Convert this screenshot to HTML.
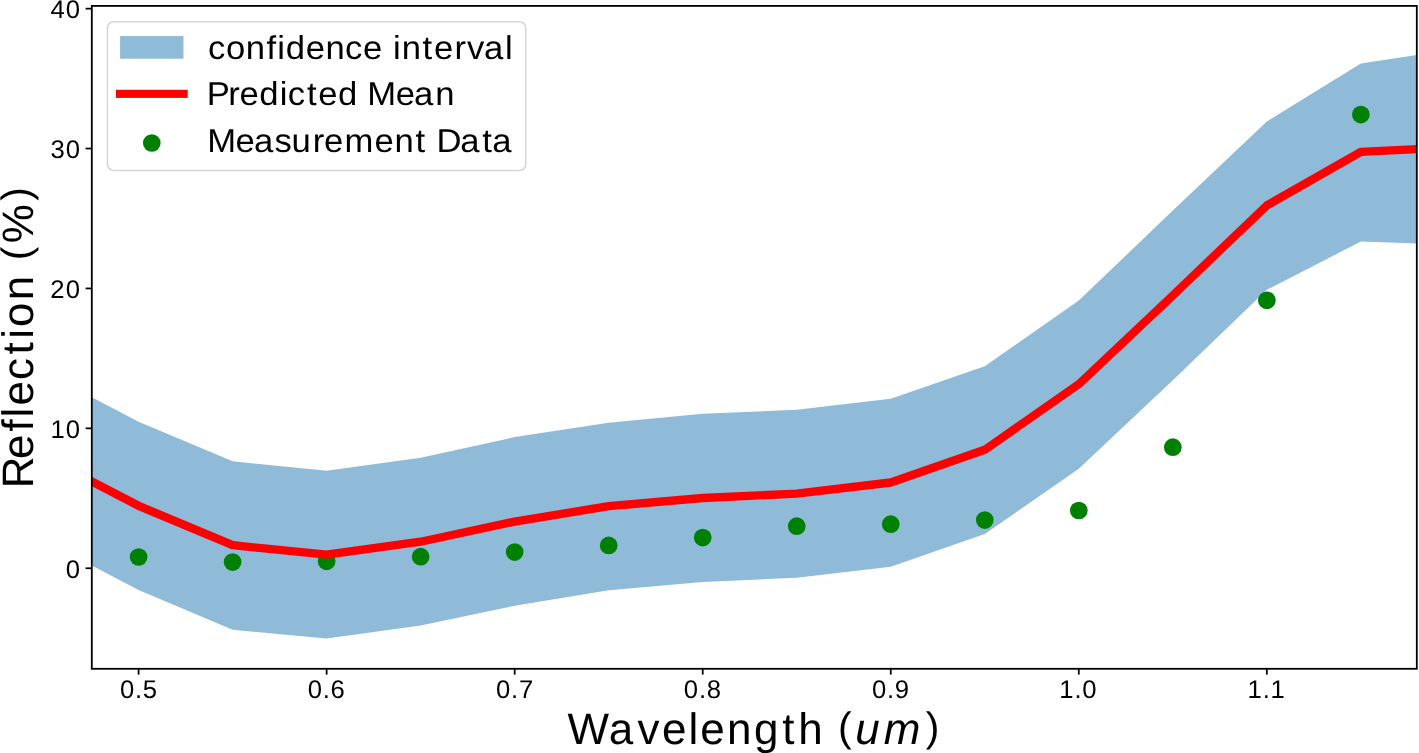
<!DOCTYPE html>
<html><head><meta charset="utf-8"><style>
html,body{margin:0;padding:0;background:#fff;}
body{width:1419px;height:753px;overflow:hidden;}
svg{display:block;will-change:transform;}
text{font-family:"Liberation Sans",sans-serif;fill:#000;-webkit-font-smoothing:antialiased;text-rendering:geometricPrecision;}
</style></head><body>
<svg width="1419" height="753" viewBox="0 0 1419 753">
<defs><clipPath id="ax"><rect x="91.8" y="5.9" width="1325.0" height="662.9"/></clipPath></defs>
<rect x="0" y="0" width="1419" height="753" fill="#fff"/>
<g clip-path="url(#ax)">
<polygon points="91.8,397.3 138.6,421.8 232.62,461.3 326.64,470.8 420.66,457.7 514.68,437.1 608.7,422.7 702.72,413.8 796.74,409.8 890.76,398.8 984.78,366.3 1078.8,300.6 1172.82,210.6 1266.84,121.5 1360.86,63.4 1416.8,54.9 1416.8,243.4 1360.86,241.5 1266.84,289.8 1172.82,380.3 1078.8,468.8 984.78,534.0 890.76,566.8 796.74,577.8 702.72,582.0 608.7,590.2 514.68,605.7 420.66,625.4 326.64,638.4 232.62,629.8 138.6,590.1 91.8,565.5" fill="#8fbbd9"/>
<g fill="#008000">
<circle cx="138.6" cy="557.0" r="8.85"/>
<circle cx="232.62" cy="562.1" r="8.85"/>
<circle cx="326.64" cy="561.3" r="8.85"/>
<circle cx="420.66" cy="556.7" r="8.85"/>
<circle cx="514.68" cy="552.1" r="8.85"/>
<circle cx="608.7" cy="545.4" r="8.85"/>
<circle cx="702.72" cy="537.6" r="8.85"/>
<circle cx="796.74" cy="526.2" r="8.85"/>
<circle cx="890.76" cy="524.2" r="8.85"/>
<circle cx="984.78" cy="520.1" r="8.85"/>
<circle cx="1078.8" cy="510.5" r="8.85"/>
<circle cx="1172.82" cy="447.2" r="8.85"/>
<circle cx="1266.84" cy="300.3" r="8.85"/>
<circle cx="1360.86" cy="114.6" r="8.85"/>
</g>
<polyline points="91.8,481.5 138.6,505.8 232.62,545.2 326.64,554.7 420.66,541.7 514.68,521.6 608.7,506.2 702.72,498.0 796.74,493.6 890.76,482.5 984.78,449.8 1078.8,384.2 1172.82,295.5 1266.84,205.4 1360.86,151.8 1416.8,149.1" fill="none" stroke="#ff0000" stroke-width="8.33" stroke-linejoin="round" stroke-linecap="square"/>
</g>
<rect x="91.8" y="5.9" width="1325.0" height="662.9" fill="none" stroke="#000" stroke-width="1.8"/>
<g stroke="#000" stroke-width="1.75"><line x1="85.6" y1="568.25" x2="91.8" y2="568.25"/><line x1="85.6" y1="428.35" x2="91.8" y2="428.35"/><line x1="85.6" y1="288.45" x2="91.8" y2="288.45"/><line x1="85.6" y1="148.55" x2="91.8" y2="148.55"/><line x1="85.6" y1="8.65" x2="91.8" y2="8.65"/><line x1="138.6" y1="668.8" x2="138.6" y2="674.6"/><line x1="326.64" y1="668.8" x2="326.64" y2="674.6"/><line x1="514.68" y1="668.8" x2="514.68" y2="674.6"/><line x1="702.72" y1="668.8" x2="702.72" y2="674.6"/><line x1="890.76" y1="668.8" x2="890.76" y2="674.6"/><line x1="1078.8" y1="668.8" x2="1078.8" y2="674.6"/><line x1="1266.84" y1="668.8" x2="1266.84" y2="674.6"/></g>
<g font-size="25.55">
<text transform="matrix(1.005,0,0,1,-0.693,0)" font-size="25.55"><tspan x="120.06" y="698.0">0</tspan><tspan x="135.01" y="698.0">.</tspan><tspan x="142.77" y="698.0">5</tspan></text>
<text transform="matrix(1.005,0,0,1,-1.633,0)" font-size="25.55"><tspan x="307.81" y="698.0">0</tspan><tspan x="322.76" y="698.0">.</tspan><tspan x="330.6" y="698.0">6</tspan></text>
<text transform="matrix(1.005,0,0,1,-2.573,0)" font-size="25.55"><tspan x="496.12" y="698.0">0</tspan><tspan x="511.07" y="698.0">.</tspan><tspan x="518.86" y="698.0">7</tspan></text>
<text transform="matrix(1.005,0,0,1,-3.514,0)" font-size="25.55"><tspan x="683.96" y="698.0">0</tspan><tspan x="698.91" y="698.0">.</tspan><tspan x="706.74" y="698.0">8</tspan></text>
<text transform="matrix(1.005,0,0,1,-4.454,0)" font-size="25.55"><tspan x="872.02" y="698.0">0</tspan><tspan x="886.97" y="698.0">.</tspan><tspan x="894.74" y="698.0">9</tspan></text>
<text transform="matrix(1.005,0,0,1,-5.394,0)" font-size="25.55"><tspan x="1059.37" y="698.0">1</tspan><tspan x="1074.43" y="698.0">.</tspan><tspan x="1082.27" y="698.0">0</tspan></text>
<text transform="matrix(1.005,0,0,1,-6.334,0)" font-size="25.55"><tspan x="1247.71" y="698.0">1</tspan><tspan x="1262.78" y="698.0">.</tspan><tspan x="1270.5" y="698.0">1</tspan></text>
<text transform="matrix(1.005,0,0,1,-0.395,0)" font-size="25.55"><tspan x="65.89" y="577.9">0</tspan></text>
<text transform="matrix(1.005,0,0,1,-0.395,0)" font-size="25.55"><tspan x="50.58" y="438.0">1</tspan><tspan x="65.89" y="438.0">0</tspan></text>
<text transform="matrix(1.005,0,0,1,-0.395,0)" font-size="25.55"><tspan x="50.39" y="298.1">2</tspan><tspan x="65.89" y="298.1">0</tspan></text>
<text transform="matrix(1.005,0,0,1,-0.395,0)" font-size="25.55"><tspan x="50.74" y="158.2">3</tspan><tspan x="65.89" y="158.2">0</tspan></text>
<text transform="matrix(1.005,0,0,1,-0.395,0)" font-size="25.55"><tspan x="50.7" y="18.3">4</tspan><tspan x="65.89" y="18.3">0</tspan></text>
</g>
<text transform="matrix(1.0,0,0,1,0.0,0)" font-size="44"><tspan x="567.57" y="744.2">W</tspan><tspan x="608.8" y="744.2">a</tspan><tspan x="637.42" y="744.2">v</tspan><tspan x="662.11" y="744.2">e</tspan><tspan x="688.49" y="744.2">l</tspan><tspan x="700.35" y="744.2">e</tspan><tspan x="727.1" y="744.2">n</tspan><tspan x="753.89" y="744.2">g</tspan><tspan x="782.15" y="744.2">t</tspan><tspan x="798.14" y="744.2">h</tspan><tspan x="838.05" y="741.36" font-size="40.92">(</tspan><tspan x="855.34" y="744.2" font-style="italic">u</tspan><tspan x="883.84" y="744.2" font-style="italic">m</tspan><tspan x="925.65" y="741.36" font-size="40.92">)</tspan></text>
<text transform="translate(32.8,483.7) rotate(-90) matrix(1.0,0,0,1,0.0,0)" font-size="44"><tspan x="-4.49" y="0">R</tspan><tspan x="24.74" y="0">e</tspan><tspan x="52.08" y="0">f</tspan><tspan x="66.26" y="0">l</tspan><tspan x="78.13" y="0">e</tspan><tspan x="103.76" y="0">c</tspan><tspan x="129.23" y="0">t</tspan><tspan x="144.95" y="0">i</tspan><tspan x="156.66" y="0">o</tspan><tspan x="183.45" y="0">n</tspan><tspan x="223.34" y="-2.84" font-size="40.92">(</tspan><tspan x="240.34" y="0">%</tspan><tspan x="282.86" y="-2.84" font-size="40.92">)</tspan></text>
<rect x="107.4" y="21.8" width="418.4" height="148.7" rx="6.3" ry="6.3" fill="#fff" fill-opacity="0.8" stroke="#d6d6d6" stroke-width="1.5"/>
<rect x="120.1" y="36.1" width="63.4" height="22.6" fill="#8fbbd9"/>
<rect x="115.9" y="89.8" width="71.8" height="8.1" fill="#ff0000"/>
<circle cx="151.8" cy="143.0" r="8.85" fill="#008000"/>
<g font-size="33">
<text transform="matrix(1.05,0,0,1,-10.51,0)" font-size="33"><tspan x="208.22" y="58.8">c</tspan><tspan x="225.23" y="58.8">o</tspan><tspan x="244.13" y="58.8">n</tspan><tspan x="263.94" y="58.8">f</tspan><tspan x="274.02" y="58.8">i</tspan><tspan x="282.11" y="58.8">d</tspan><tspan x="301.25" y="58.8">e</tspan><tspan x="320.14" y="58.8">n</tspan><tspan x="338.52" y="58.8">c</tspan><tspan x="355.64" y="58.8">e</tspan><tspan x="384.23" y="58.8">i</tspan><tspan x="392.54" y="58.8">n</tspan><tspan x="412.5" y="58.8">t</tspan><tspan x="423.28" y="58.8">e</tspan><tspan x="442.97" y="58.8">r</tspan><tspan x="454.83" y="58.8">v</tspan><tspan x="470.94" y="58.8">a</tspan><tspan x="491.09" y="58.8">l</tspan></text>
<text transform="matrix(1.05,0,0,1,-10.57,0)" font-size="33"><tspan x="207.07" y="105.1">P</tspan><tspan x="227.56" y="105.1">r</tspan><tspan x="238.25" y="105.1">e</tspan><tspan x="256.98" y="105.1">d</tspan><tspan x="276.54" y="105.1">i</tspan><tspan x="284.13" y="105.1">c</tspan><tspan x="302.38" y="105.1">t</tspan><tspan x="313.22" y="105.1">e</tspan><tspan x="331.96" y="105.1">d</tspan><tspan x="359.95" y="105.1">M</tspan><tspan x="387.01" y="105.1">e</tspan><tspan x="404.42" y="105.1">a</tspan><tspan x="424.57" y="105.1">n</tspan></text>
<text transform="matrix(1.05,0,0,1,-10.55,0)" font-size="33"><tspan x="207.38" y="151.9">M</tspan><tspan x="234.44" y="151.9">e</tspan><tspan x="251.85" y="151.9">a</tspan><tspan x="271.37" y="151.9">s</tspan><tspan x="287.69" y="151.9">u</tspan><tspan x="307.86" y="151.9">r</tspan><tspan x="318.54" y="151.9">e</tspan><tspan x="338.12" y="151.9">m</tspan><tspan x="366.79" y="151.9">e</tspan><tspan x="385.75" y="151.9">n</tspan><tspan x="405.77" y="151.9">t</tspan><tspan x="425.84" y="151.9">D</tspan><tspan x="448.37" y="151.9">a</tspan><tspan x="469.3" y="151.9">t</tspan><tspan x="478.87" y="151.9">a</tspan></text>
</g>
</svg>
</body></html>
